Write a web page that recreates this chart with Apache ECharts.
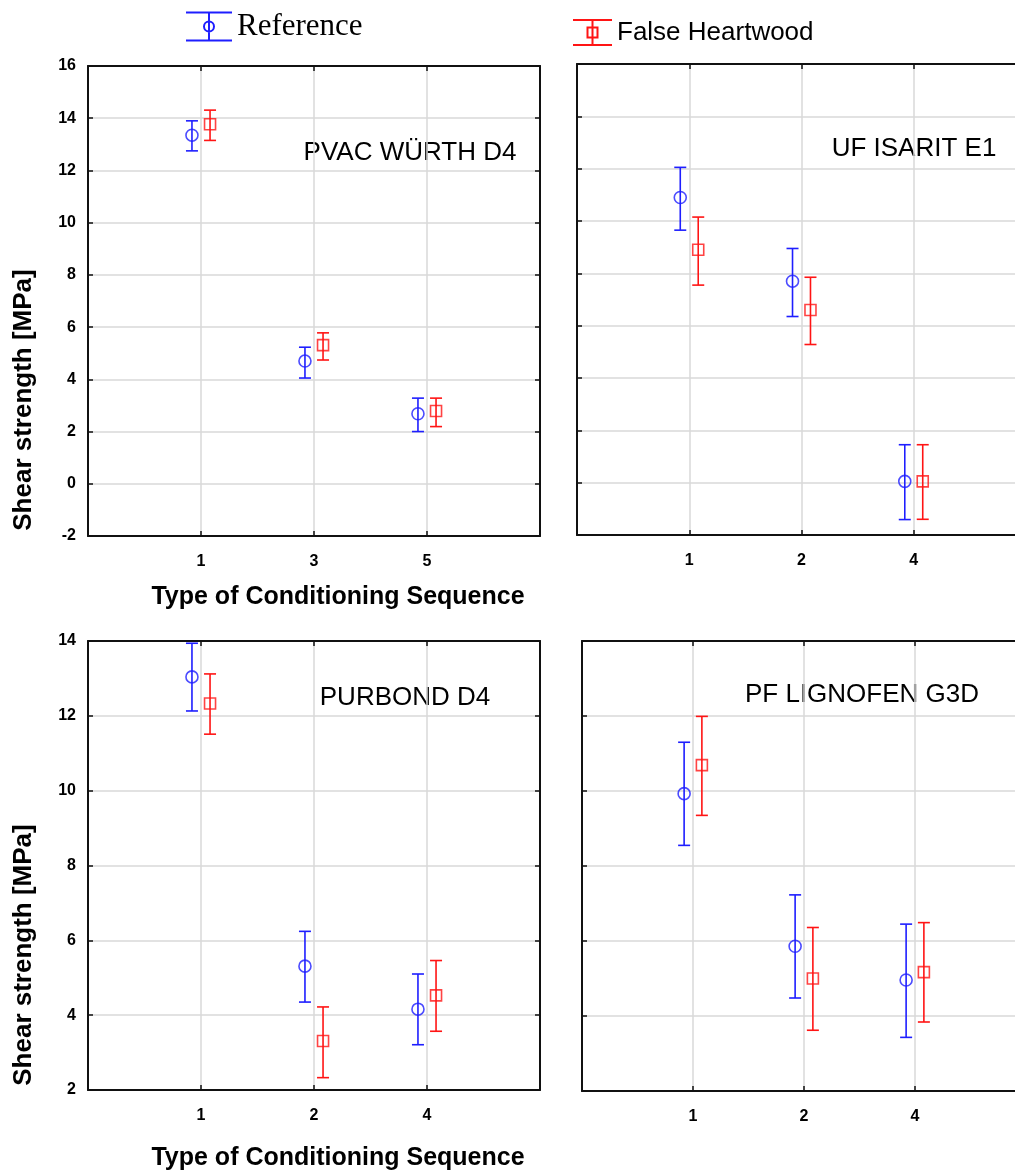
<!DOCTYPE html>
<html>
<head>
<meta charset="utf-8">
<script src="https://cdn.jsdelivr.net/npm/echarts@6/dist/echarts.min.js"></script>
<style>
  html, body { margin: 0; padding: 0; background: #fff; }
  #chart { width: 1015px; height: 1171px; }
</style>
</head>
<body>
<div id="chart"></div>
<script>
// x categories (type of conditioning sequence) per panel
const catsPVAC = ['1', '3', '5'];
const catsUF = ['1', '2', '4'];
const catsPUR = ['1', '2', '4'];
const catsPF = ['1', '2', '4'];

// PVAC WÜRTH D4
const refPVAC = [13.35, 4.70, 2.68];
const refPVACLo = [12.75, 4.05, 2.00];
const refPVACHi = [13.90, 5.23, 3.28];
const fhPVAC = [13.77, 5.31, 2.79];
const fhPVACLo = [13.15, 4.74, 2.19];
const fhPVACHi = [14.31, 5.78, 3.28];

// UF ISARIT E1
const refUF = [10.90, 7.70, 0.05];
const refUFLo = [9.65, 6.35, -1.41];
const refUFHi = [12.05, 8.95, 1.45];
const fhUF = [8.90, 6.60, 0.05];
const fhUFLo = [7.55, 5.28, -1.40];
const fhUFHi = [10.15, 7.85, 1.45];

// PURBOND D4
const refPUR = [13.04, 5.31, 4.16];
const refPURLo = [12.13, 4.35, 3.21];
const refPURHi = [13.94, 6.24, 5.10];
const fhPUR = [12.33, 3.31, 4.53];
const fhPURLo = [11.51, 2.33, 3.57];
const fhPURHi = [13.12, 4.22, 5.46];

// PF LIGNOFEN G3D
const refPF = [9.93, 5.86, 4.96];
const refPFLo = [8.55, 4.48, 3.43];
const refPFHi = [11.30, 7.23, 6.45];
const fhPF = [10.69, 5.00, 5.17];
const fhPFLo = [9.35, 3.62, 3.84];
const fhPFHi = [11.99, 6.36, 6.49];

const BLUE = '#1e1eff';
const RED = '#ff1414';
const SANS = '"Liberation Sans", Arial, sans-serif';

const panels = [
  { name: 'PVAC WÜRTH D4', cats: catsPVAC, ymin: -2, ymax: 16, yLabels: true,
    grid: { left: 88, top: 66, width: 452, height: 470 },
    ref: [refPVAC, refPVACLo, refPVACHi], fh: [fhPVAC, fhPVACLo, fhPVACHi], label: [410, 153] },
  { name: 'UF ISARIT E1', cats: catsUF, ymin: -2, ymax: 16, yLabels: false,
    grid: { left: 577, top: 64, width: 449, height: 471 },
    ref: [refUF, refUFLo, refUFHi], fh: [fhUF, fhUFLo, fhUFHi], label: [914, 149] },
  { name: 'PURBOND D4', cats: catsPUR, ymin: 2, ymax: 14, yLabels: true,
    grid: { left: 88, top: 641, width: 452, height: 449 },
    ref: [refPUR, refPURLo, refPURHi], fh: [fhPUR, fhPURLo, fhPURHi], label: [405, 698] },
  { name: 'PF LIGNOFEN G3D', cats: catsPF, ymin: 2, ymax: 14, yLabels: false,
    grid: { left: 582, top: 641, width: 444, height: 450 },
    ref: [refPF, refPFLo, refPFHi], fh: [fhPF, fhPFLo, fhPFHi], label: [862, 695] }
];

const OFFSET = 0.08;

// error bar: vertical line with caps
const errorBar = color => (params, api) => {
  const x = api.value(0);
  const top = api.coord([x, api.value(2)]);
  const bot = api.coord([x, api.value(1)]);
  const hw = 6;
  const style = { stroke: color, lineWidth: 1.6, fill: null };
  return {
    type: 'group',
    children: [
      { type: 'line', shape: { x1: top[0], y1: top[1], x2: bot[0], y2: bot[1] }, style },
      { type: 'line', shape: { x1: top[0] - hw, y1: top[1], x2: top[0] + hw, y2: top[1] }, style },
      { type: 'line', shape: { x1: bot[0] - hw, y1: bot[1], x2: bot[0] + hw, y2: bot[1] }, style }
    ]
  };
};

const axisLineStyle = { color: '#111', width: 2 };
const tickStyle = { show: true, inside: true, length: 5, lineStyle: { color: '#111', width: 1.5 } };
const gridLine = { show: true, lineStyle: { color: '#d9d9d9', width: 1.5 } };

const grids = [], xAxes = [], yAxes = [], series = [], graphics = [];

panels.forEach((p, i) => {
  grids.push(Object.assign({ outerBoundsMode: 'none', containLabel: false }, p.grid));
  // bottom x axis
  xAxes.push({
    gridIndex: i, type: 'value', min: 0, max: 4, interval: 1, position: 'bottom',
    axisLine: { show: true, onZero: false, lineStyle: axisLineStyle },
    axisTick: tickStyle,
    axisLabel: { formatter: v => p.cats[v - 1] || '', color: '#000', fontFamily: SANS,
                 fontWeight: 'bold', fontSize: 16, margin: 18 },
    splitLine: gridLine
  });
  // left y axis
  yAxes.push({
    gridIndex: i, type: 'value', min: p.ymin, max: p.ymax, interval: 2, position: 'left',
    axisLine: { show: true, onZero: false, lineStyle: axisLineStyle },
    axisTick: tickStyle,
    axisLabel: { show: p.yLabels, color: '#000', fontFamily: SANS, fontWeight: 'bold',
                 fontSize: 16, margin: 12 },
    splitLine: gridLine
  });
});
// top / right frame axes (ticks only)
panels.forEach((p, i) => {
  xAxes.push({
    gridIndex: i, type: 'value', min: 0, max: 4, interval: 1, position: 'top',
    axisLine: { show: true, onZero: false, lineStyle: axisLineStyle },
    axisTick: tickStyle, axisLabel: { show: false }, splitLine: { show: false }
  });
  yAxes.push({
    gridIndex: i, type: 'value', min: p.ymin, max: p.ymax, interval: 2, position: 'right',
    axisLine: { show: true, onZero: false, lineStyle: axisLineStyle },
    axisTick: tickStyle, axisLabel: { show: false }, splitLine: { show: false }
  });
});

panels.forEach((p, i) => {
  [['Reference', p.ref, -OFFSET, BLUE, 'circle'],
   ['False Heartwood', p.fh, OFFSET, RED, 'rect']].forEach(([name, d, off, color, sym]) => {
    const [mean, lo, hi] = d;
    series.push({
      name, type: 'custom', xAxisIndex: i, yAxisIndex: i,
      renderItem: errorBar(color),
      encode: { x: 0, y: [1, 2] },
      data: mean.map((_, k) => [k + 1 + off, lo[k], hi[k]]),
      silent: true, z: 2
    });
    series.push({
      name, type: 'scatter', xAxisIndex: i, yAxisIndex: i,
      symbol: sym, symbolSize: sym === 'circle' ? 12 : 11,
      itemStyle: { color: 'rgba(0,0,0,0)', borderColor: color, borderWidth: 1.6 },
      emphasis: { disabled: true },
      data: mean.map((v, k) => [k + 1 + off, v]),
      silent: true, z: 3
    });
  });
  graphics.push({
    type: 'text', x: p.label[0], y: p.label[1],
    style: { text: p.name, font: '26px ' + SANS, fill: '#000', align: 'center', verticalAlign: 'middle' }
  });
});

// axis titles
[[338, 597], [338, 1158]].forEach(([x, y]) => graphics.push({
  type: 'text', x, y,
  style: { text: 'Type of Conditioning Sequence', font: 'bold 25px ' + SANS, fill: '#000',
           align: 'center', verticalAlign: 'middle' }
}));
[[24, 400], [24, 955]].forEach(([x, y]) => graphics.push({
  type: 'text', x, y, rotation: Math.PI / 2,
  style: { text: 'Shear strength [MPa]', font: 'bold 26px ' + SANS, fill: '#000',
           align: 'center', verticalAlign: 'middle' }
}));

const chart = echarts.init(document.getElementById('chart'));
chart.setOption({
  animation: false,
  backgroundColor: '#fff',
  legend: [
    {
      left: 185, top: 11, padding: 0, itemWidth: 46, itemHeight: 28,
      data: [{ name: 'Reference',
               icon: 'path://M0,0L46,0M23,0L23,28M0,28L46,28M18,14A5,5,0,1,1,28,14A5,5,0,1,1,18,14',
               itemStyle: { color: 'rgba(0,0,0,0)', borderColor: BLUE, borderWidth: 2 } }],
      textStyle: { fontFamily: '"Liberation Serif", "Times New Roman", serif', fontSize: 31, color: '#000' },
      selectedMode: false
    },
    {
      left: 572, top: 19, padding: 0, itemWidth: 39, itemHeight: 25,
      data: [{ name: 'False Heartwood',
               icon: 'path://M0,0L39,0M19.5,0L19.5,25M0,25L39,25M14.5,7.5L24.5,7.5L24.5,17.5L14.5,17.5Z',
               itemStyle: { color: 'rgba(0,0,0,0)', borderColor: RED, borderWidth: 2 } }],
      textStyle: { fontFamily: SANS, fontSize: 26, color: '#000' },
      selectedMode: false
    }
  ],
  grid: grids,
  xAxis: xAxes,
  yAxis: yAxes,
  series,
  graphic: graphics
});
</script>
</body>
</html>
